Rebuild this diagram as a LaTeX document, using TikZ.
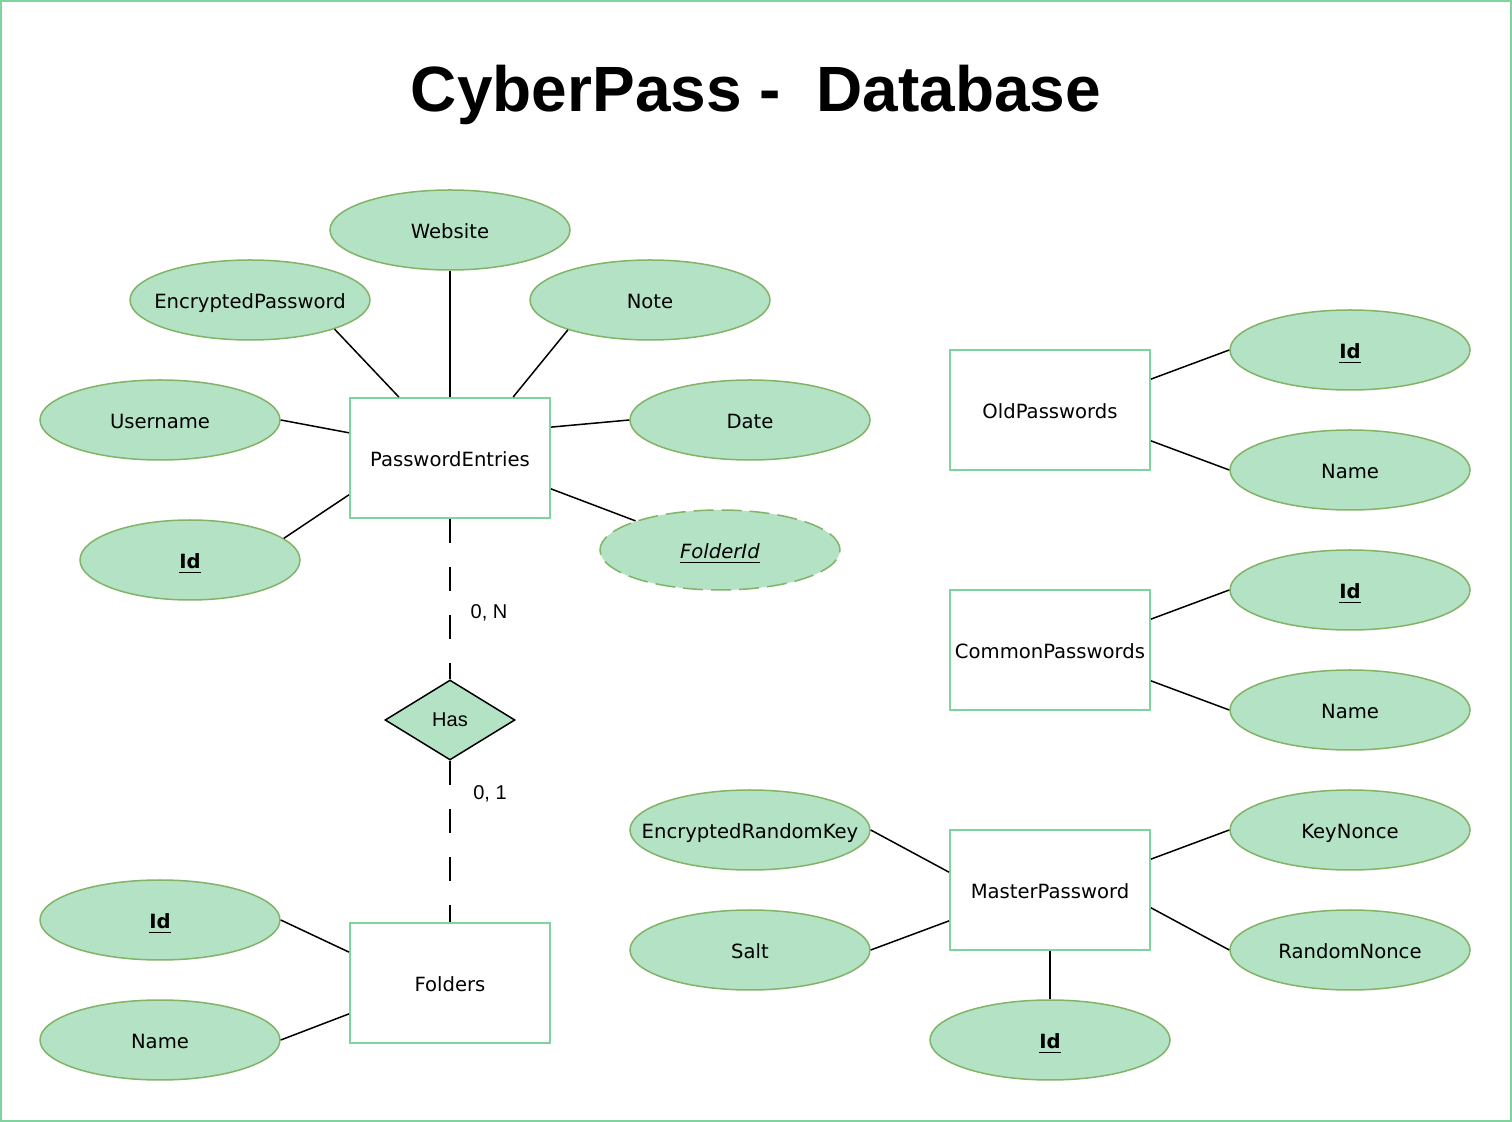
\documentclass[tikz,border=0pt]{standalone}
\usepackage{fontspec}
\setmainfont{DejaVu Sans}
\newfontfamily\arialfont{Liberation Sans}
\usepackage{xcolor}
\usepackage{tikz}
\usetikzlibrary{shapes.geometric}

\definecolor{mint}{RGB}{179,226,197}
\definecolor{leaf}{RGB}{130,179,102}
\definecolor{boxgreen}{RGB}{126,211,158}
\newcommand{\attrtext}[1]{\makebox[0pt]{#1}}

\begin{document}
\begin{tikzpicture}[
    x=0.5pt, y=-0.5pt,
    entity/.style={draw=boxgreen, line width=1pt, fill=white, inner sep=0pt,
                   minimum width=100pt, minimum height=60pt,
                   text height=9pt, text depth=0pt,
                   font=\fontsize{9.8}{12}\selectfont},
    attr/.style={ellipse, draw=leaf, line width=0.75pt, fill=mint, inner sep=0pt,
                 minimum width=120pt, minimum height=40pt,
                 text height=9pt, text depth=0pt,
                 font=\fontsize{9.8}{12}\selectfont},
    link/.style={line width=0.75pt},
    rel/.style={line width=0.75pt, dash pattern=on 12pt off 12pt},
    card/.style={font=\arialfont\fontsize{10}{12}\selectfont},
  ]
  \useasboundingbox (0,0) rectangle (1512,1122);
  \draw[boxgreen, line width=1pt] (1,1) rectangle (1511,1121);

  % title
  \node[font=\arialfont\bfseries\fontsize{32}{38}\selectfont, anchor=base] (title) at (756,112) {CyberPass -\ \ Database};

  % PasswordEntries
  \node[entity] (pe) at (450,458) {PasswordEntries};
  \node[attr] (web)    at (450,230) {\attrtext{Website}};
  \node[attr] (encpwd) at (250,300) {\attrtext{EncryptedPassword}};
  \node[attr] (note)   at (650,300) {\attrtext{Note}};
  \node[attr] (user)   at (160,420) {\attrtext{Username}};
  \node[attr] (date)   at (750,420) {\attrtext{Date}};
  \node[attr, minimum width=110pt] (peid) at (190,560) {\attrtext{\underline{\textbf{Id}}}};
  \node[attr, dash pattern=on 10pt off 4pt] (folderid) at (720,550) {\attrtext{\underline{\textit{FolderId}}}};

  \draw[link] (web) -- (pe);
  \draw[link] (encpwd.-19) -- (pe.130);
  \draw[link] (note.200) -- (pe.44);
  \draw[link] (user.east) -- (pe.166);
  \draw[link] (peid.13) -- (pe.200);
  \draw[link] (pe.17) -- (date.west);
  \draw[link] (pe.-17) -- (folderid.161);

  % Has relation
  \node[diamond, draw, line width=0.75pt, fill=mint, inner sep=0pt,
        minimum width=65pt, minimum height=40pt, font=\arialfont\fontsize{10}{12}\selectfont] (has) at (450,720) {Has};
  \node[card] (cardpe) at (489,613) {0, N};
  \node[card] (cardfo) at (490,794) {0, 1};

  % Folders
  \node[entity] (folders) at (450,983) {Folders};
  \node[attr] (fid)   at (160,920)  {\attrtext{\underline{\textbf{Id}}}};
  \node[attr] (fname) at (160,1040) {\attrtext{Name}};
  \draw[link] (fid.east) -- (folders.163);
  \draw[link] (fname.east) -- (folders.197);

  \draw[rel] (pe) -- (has);
  \draw[rel] (has) -- (folders);

  % OldPasswords
  \node[entity] (old) at (1050,410) {OldPasswords};
  \node[attr] (oldid)   at (1350,350) {\attrtext{\underline{\textbf{Id}}}};
  \node[attr] (oldname) at (1350,470) {\attrtext{Name}};
  \draw[link] (old.17) -- (oldid.west);
  \draw[link] (old.-17) -- (oldname.west);

  % CommonPasswords
  \node[entity] (common) at (1050,650) {CommonPasswords};
  \node[attr] (comid)   at (1350,590) {\attrtext{\underline{\textbf{Id}}}};
  \node[attr] (comname) at (1350,710) {\attrtext{Name}};
  \draw[link] (common.17) -- (comid.west);
  \draw[link] (common.-17) -- (comname.west);

  % MasterPassword
  \node[entity] (master) at (1050,890) {MasterPassword};
  \node[attr] (keynonce) at (1350,830)  {\attrtext{KeyNonce}};
  \node[attr] (rndnonce) at (1350,950)  {\attrtext{RandomNonce}};
  \node[attr] (erk)      at (750,830)   {\attrtext{EncryptedRandomKey}};
  \node[attr] (salt)     at (750,950)   {\attrtext{Salt}};
  \node[attr] (mid)      at (1050,1040) {\attrtext{\underline{\textbf{Id}}}};
  \draw[link] (master.17) -- (keynonce.west);
  \draw[link] (master.-10) -- (rndnonce.west);
  \draw[link] (erk.east) -- (master.170);
  \draw[link] (salt.east) -- (master.197);
  \draw[link] (master.south) -- (mid.north);
\end{tikzpicture}
\end{document}
